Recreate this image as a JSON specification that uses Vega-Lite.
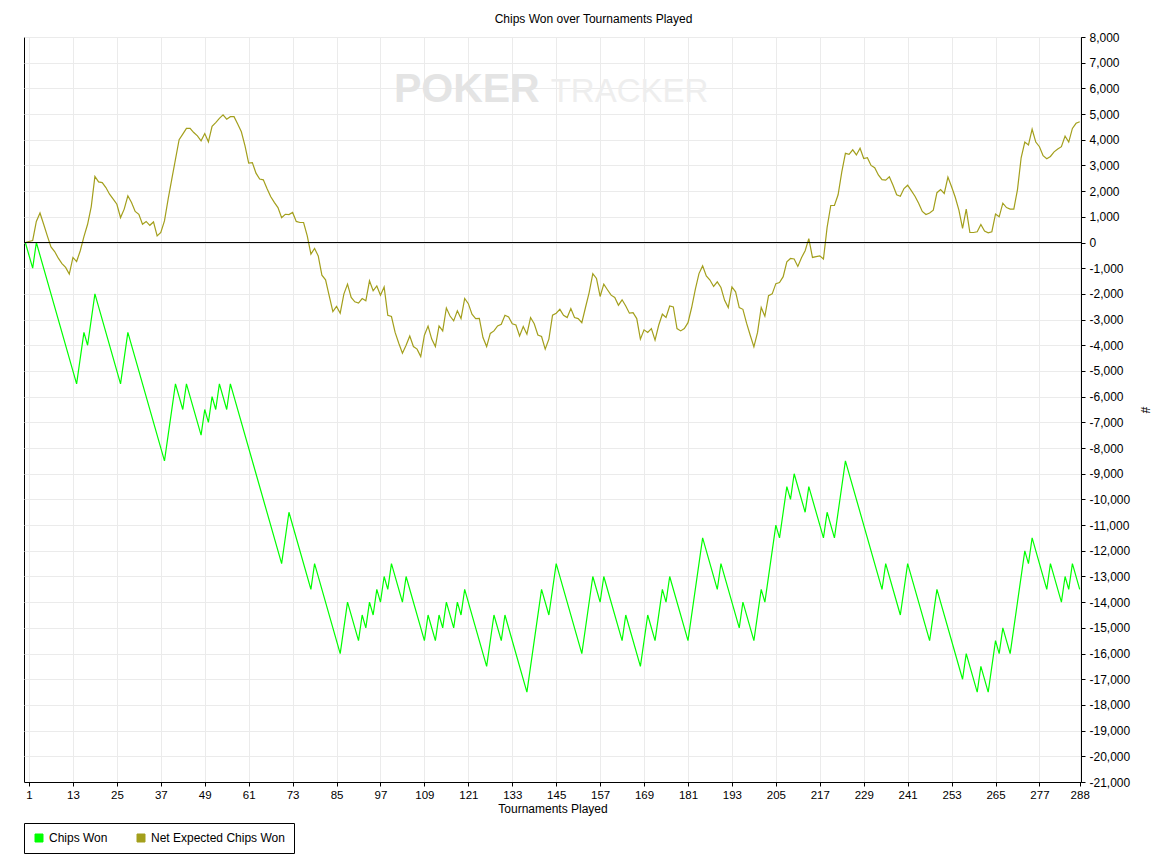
{
  "$schema": "https://vega.github.io/schema/vega-lite/v6.json",
  "width": 1057,
  "height": 745,
  "autosize": "none",
  "padding": {"left": 24, "top": 37, "right": 79, "bottom": 81},
  "background": "white",
  "title": {
    "text": "Chips Won over Tournaments Played",
    "fontSize": 12,
    "font": "Liberation Sans",
    "fontWeight": "normal",
    "color": "black",
    "anchor": "middle",
    "dx": 41,
    "offset": 5
  },
  "datasets": {
    "chips": [
      {"t":0,"v":0},{"t":2,"v":-1000},{"t":3,"v":0},{"t":14,"v":-5500},{"t":16,"v":-3500},{"t":17,"v":-4000},{"t":19,"v":-2000},{"t":26,"v":-5500},{"t":28,"v":-3500},{"t":38,"v":-8500},
      {"t":41,"v":-5500},{"t":43,"v":-6500},{"t":44,"v":-5500},{"t":48,"v":-7500},{"t":49,"v":-6500},{"t":50,"v":-7000},{"t":51,"v":-6000},{"t":52,"v":-6500},{"t":53,"v":-5500},{"t":55,"v":-6500},
      {"t":56,"v":-5500},{"t":70,"v":-12500},{"t":72,"v":-10500},{"t":78,"v":-13500},{"t":79,"v":-12500},{"t":86,"v":-16000},{"t":88,"v":-14000},{"t":91,"v":-15500},{"t":92,"v":-14500},{"t":93,"v":-15000},
      {"t":94,"v":-14000},{"t":95,"v":-14500},{"t":96,"v":-13500},{"t":97,"v":-14000},{"t":98,"v":-13000},{"t":99,"v":-13500},{"t":100,"v":-12500},{"t":103,"v":-14000},{"t":104,"v":-13000},{"t":109,"v":-15500},
      {"t":110,"v":-14500},{"t":112,"v":-15500},{"t":113,"v":-14500},{"t":114,"v":-15000},{"t":115,"v":-14000},{"t":117,"v":-15000},{"t":118,"v":-14000},{"t":119,"v":-14500},{"t":120,"v":-13500},{"t":126,"v":-16500},
      {"t":128,"v":-14500},{"t":130,"v":-15500},{"t":131,"v":-14500},{"t":137,"v":-17500},{"t":141,"v":-13500},{"t":143,"v":-14500},{"t":145,"v":-12500},{"t":152,"v":-16000},{"t":155,"v":-13000},{"t":157,"v":-14000},
      {"t":158,"v":-13000},{"t":163,"v":-15500},{"t":164,"v":-14500},{"t":168,"v":-16500},{"t":170,"v":-14500},{"t":172,"v":-15500},{"t":174,"v":-13500},{"t":175,"v":-14000},{"t":176,"v":-13000},{"t":181,"v":-15500},
      {"t":185,"v":-11500},{"t":189,"v":-13500},{"t":190,"v":-12500},{"t":195,"v":-15000},{"t":196,"v":-14000},{"t":199,"v":-15500},{"t":201,"v":-13500},{"t":202,"v":-14000},{"t":205,"v":-11000},{"t":206,"v":-11500},
      {"t":208,"v":-9500},{"t":209,"v":-10000},{"t":210,"v":-9000},{"t":213,"v":-10500},{"t":214,"v":-9500},{"t":218,"v":-11500},{"t":219,"v":-10500},{"t":221,"v":-11500},{"t":224,"v":-8500},{"t":234,"v":-13500},
      {"t":235,"v":-12500},{"t":239,"v":-14500},{"t":241,"v":-12500},{"t":247,"v":-15500},{"t":249,"v":-13500},{"t":256,"v":-17000},{"t":257,"v":-16000},{"t":260,"v":-17500},{"t":261,"v":-16500},{"t":263,"v":-17500},
      {"t":265,"v":-15500},{"t":266,"v":-16000},{"t":267,"v":-15000},{"t":269,"v":-16000},{"t":273,"v":-12000},{"t":274,"v":-12500},{"t":275,"v":-11500},{"t":279,"v":-13500},{"t":280,"v":-12500},{"t":283,"v":-14000},
      {"t":284,"v":-13000},{"t":285,"v":-13500},{"t":286,"v":-12500},{"t":288,"v":-13500}
    ],
    "net": [
      {"t":0,"v":0},{"t":1,"v":40},{"t":2,"v":80},{"t":3,"v":820},{"t":4,"v":1150},{"t":5,"v":710},{"t":6,"v":260},{"t":7,"v":-170},{"t":8,"v":-350},{"t":9,"v":-610},
      {"t":10,"v":-820},{"t":11,"v":-970},{"t":12,"v":-1230},{"t":13,"v":-580},{"t":14,"v":-740},{"t":15,"v":-320},{"t":16,"v":230},{"t":17,"v":710},{"t":18,"v":1400},{"t":19,"v":2570},
      {"t":20,"v":2360},{"t":21,"v":2330},{"t":22,"v":2140},{"t":23,"v":1880},{"t":24,"v":1690},{"t":25,"v":1490},{"t":26,"v":970},{"t":27,"v":1300},{"t":28,"v":1820},{"t":29,"v":1560},
      {"t":30,"v":1210},{"t":31,"v":1100},{"t":32,"v":710},{"t":33,"v":820},{"t":34,"v":670},{"t":35,"v":800},{"t":36,"v":260},{"t":37,"v":390},{"t":38,"v":840},{"t":39,"v":1690},
      {"t":40,"v":2470},{"t":41,"v":3240},{"t":42,"v":4000},{"t":43,"v":4220},{"t":44,"v":4440},{"t":45,"v":4440},{"t":46,"v":4280},{"t":47,"v":4150},{"t":48,"v":3960},{"t":49,"v":4240},
      {"t":50,"v":3920},{"t":51,"v":4520},{"t":52,"v":4670},{"t":53,"v":4830},{"t":54,"v":4970},{"t":55,"v":4800},{"t":56,"v":4900},{"t":57,"v":4900},{"t":58,"v":4610},{"t":59,"v":4310},
      {"t":60,"v":3760},{"t":61,"v":3090},{"t":62,"v":3110},{"t":63,"v":2700},{"t":64,"v":2470},{"t":65,"v":2440},{"t":66,"v":2100},{"t":67,"v":1790},{"t":68,"v":1560},{"t":69,"v":1360},
      {"t":70,"v":970},{"t":71,"v":1100},{"t":72,"v":1090},{"t":73,"v":1170},{"t":74,"v":820},{"t":75,"v":780},{"t":76,"v":780},{"t":77,"v":260},{"t":78,"v":-450},{"t":79,"v":-230},
      {"t":80,"v":-520},{"t":81,"v":-1270},{"t":82,"v":-1450},{"t":83,"v":-2080},{"t":84,"v":-2690},{"t":85,"v":-2490},{"t":86,"v":-2750},{"t":87,"v":-2010},{"t":88,"v":-1620},{"t":89,"v":-2140},
      {"t":90,"v":-2310},{"t":91,"v":-2360},{"t":92,"v":-2180},{"t":93,"v":-2270},{"t":94,"v":-1490},{"t":95,"v":-1880},{"t":96,"v":-1690},{"t":97,"v":-2050},{"t":98,"v":-1730},{"t":99,"v":-2830},
      {"t":100,"v":-2880},{"t":101,"v":-3500},{"t":102,"v":-3920},{"t":103,"v":-4310},{"t":104,"v":-4000},{"t":105,"v":-3640},{"t":106,"v":-4050},{"t":107,"v":-4150},{"t":108,"v":-4440},{"t":109,"v":-3610},
      {"t":110,"v":-3250},{"t":111,"v":-3760},{"t":112,"v":-4050},{"t":113,"v":-3250},{"t":114,"v":-3440},{"t":115,"v":-2550},{"t":116,"v":-2860},{"t":117,"v":-3050},{"t":118,"v":-2660},{"t":119,"v":-2960},
      {"t":120,"v":-2180},{"t":121,"v":-2380},{"t":122,"v":-2790},{"t":123,"v":-2960},{"t":124,"v":-2950},{"t":125,"v":-3700},{"t":126,"v":-4050},{"t":127,"v":-3540},{"t":128,"v":-3440},{"t":129,"v":-3250},
      {"t":130,"v":-3180},{"t":131,"v":-2830},{"t":132,"v":-2900},{"t":133,"v":-3160},{"t":134,"v":-3210},{"t":135,"v":-3640},{"t":136,"v":-3270},{"t":137,"v":-3570},{"t":138,"v":-2920},{"t":139,"v":-3160},
      {"t":140,"v":-3600},{"t":141,"v":-3660},{"t":142,"v":-4150},{"t":143,"v":-3760},{"t":144,"v":-2830},{"t":145,"v":-2750},{"t":146,"v":-2600},{"t":147,"v":-2830},{"t":148,"v":-2920},{"t":149,"v":-2570},
      {"t":150,"v":-2920},{"t":151,"v":-2960},{"t":152,"v":-3120},{"t":153,"v":-2530},{"t":154,"v":-1950},{"t":155,"v":-1210},{"t":156,"v":-1400},{"t":157,"v":-2100},{"t":158,"v":-1620},{"t":159,"v":-1840},
      {"t":160,"v":-2050},{"t":161,"v":-2140},{"t":162,"v":-2440},{"t":163,"v":-2230},{"t":164,"v":-2470},{"t":165,"v":-2750},{"t":166,"v":-2730},{"t":167,"v":-2960},{"t":168,"v":-3760},{"t":169,"v":-3400},
      {"t":170,"v":-3500},{"t":171,"v":-3350},{"t":172,"v":-3800},{"t":173,"v":-3220},{"t":174,"v":-2790},{"t":175,"v":-2920},{"t":176,"v":-2470},{"t":177,"v":-2510},{"t":178,"v":-3350},{"t":179,"v":-3440},
      {"t":180,"v":-3350},{"t":181,"v":-3120},{"t":182,"v":-2530},{"t":183,"v":-1820},{"t":184,"v":-1210},{"t":185,"v":-910},{"t":186,"v":-1300},{"t":187,"v":-1460},{"t":188,"v":-1710},{"t":189,"v":-1530},
      {"t":190,"v":-1750},{"t":191,"v":-2250},{"t":192,"v":-2530},{"t":193,"v":-1730},{"t":194,"v":-1920},{"t":195,"v":-2530},{"t":196,"v":-2600},{"t":197,"v":-3140},{"t":198,"v":-3610},{"t":199,"v":-4060},
      {"t":200,"v":-3500},{"t":201,"v":-2530},{"t":202,"v":-2870},{"t":203,"v":-2070},{"t":204,"v":-2000},{"t":205,"v":-1600},{"t":206,"v":-1560},{"t":207,"v":-1330},{"t":208,"v":-750},{"t":209,"v":-620},
      {"t":210,"v":-640},{"t":211,"v":-930},{"t":212,"v":-590},{"t":213,"v":-320},{"t":214,"v":150},{"t":215,"v":-580},{"t":216,"v":-550},{"t":217,"v":-520},{"t":218,"v":-640},{"t":219,"v":590},
      {"t":220,"v":1440},{"t":221,"v":1440},{"t":222,"v":1860},{"t":223,"v":2740},{"t":224,"v":3470},{"t":225,"v":3430},{"t":226,"v":3610},{"t":227,"v":3410},{"t":228,"v":3670},{"t":229,"v":3270},
      {"t":230,"v":3300},{"t":231,"v":3000},{"t":232,"v":2910},{"t":233,"v":2630},{"t":234,"v":2450},{"t":235,"v":2430},{"t":236,"v":2560},{"t":237,"v":2230},{"t":238,"v":1860},{"t":239,"v":1800},
      {"t":240,"v":2100},{"t":241,"v":2230},{"t":242,"v":2020},{"t":243,"v":1800},{"t":244,"v":1530},{"t":245,"v":1210},{"t":246,"v":1090},{"t":247,"v":1150},{"t":248,"v":1260},{"t":249,"v":1940},
      {"t":250,"v":2060},{"t":251,"v":1910},{"t":252,"v":2550},{"t":253,"v":2170},{"t":254,"v":1760},{"t":255,"v":1260},{"t":256,"v":550},{"t":257,"v":1300},{"t":258,"v":390},{"t":259,"v":390},
      {"t":260,"v":420},{"t":261,"v":700},{"t":262,"v":450},{"t":263,"v":380},{"t":264,"v":420},{"t":265,"v":1110},{"t":266,"v":1000},{"t":267,"v":1530},{"t":268,"v":1360},{"t":269,"v":1300},
      {"t":270,"v":1300},{"t":271,"v":2060},{"t":272,"v":3300},{"t":273,"v":3910},{"t":274,"v":3800},{"t":275,"v":4410},{"t":276,"v":3910},{"t":277,"v":3730},{"t":278,"v":3380},{"t":279,"v":3260},
      {"t":280,"v":3350},{"t":281,"v":3530},{"t":282,"v":3640},{"t":283,"v":3730},{"t":284,"v":4140},{"t":285,"v":3910},{"t":286,"v":4440},{"t":287,"v":4640},{"t":288,"v":4700}
    ]
  },
  "encoding": {
    "x": {
      "field": "t", "type": "quantitative", "title": "Tournaments Played",
      "scale": {"domain": [-0.37, 288.35], "nice": false, "zero": false},
      "axis": {"labelOverlap": false, "values": [1, 13, 25, 37, 49, 61, 73, 85, 97, 109, 121, 133, 145, 157, 169, 181, 193, 205, 217, 229, 241, 253, 265, 277, 288]}
    },
    "y": {
      "field": "v", "type": "quantitative", "title": "#",
      "scale": {"domain": [-21000, 8000], "nice": false, "zero": false},
      "axis": {
        "orient": "right", "format": ",d", "labelOverlap": false, "labelFlush": false, "labelBound": false,
        "values": [-21000, -20000, -19000, -18000, -17000, -16000, -15000, -14000, -13000, -12000, -11000, -10000, -9000, -8000, -7000, -6000, -5000, -4000, -3000, -2000, -1000, 0, 1000, 2000, 3000, 4000, 5000, 6000, 7000, 8000]
      }
    }
  },
  "layer": [
    {
      "data": {"name": "chips"},
      "mark": {"type": "line", "strokeWidth": 1.2},
      "encoding": {
        "color": {
          "datum": "Chips Won",
          "legend": {
            "encode": {"symbols": {"update": {"fill": {"scale": "color", "field": "value"}, "fillOpacity": {"value": 1}, "stroke": {"value": "black"}, "strokeWidth": {"value": 1}, "opacity": {"value": 1}}}}
          }
        }
      }
    },
    {
      "data": {"name": "net"},
      "mark": {"type": "line", "strokeWidth": 1.2},
      "encoding": {"color": {"datum": "Net Expected Chips Won"}}
    },
    {
      "data": {"values": [{"t": -0.37, "v": 0}, {"t": 288.35, "v": 0}]},
      "mark": {"type": "line", "color": "black", "strokeWidth": 1},
      "encoding": {}
    },
    {
      "data": {"values": [{"label": "POKER", "t": 140.5, "v": 5460}]},
      "mark": {"type": "text", "align": "right", "baseline": "alphabetic", "font": "Liberation Sans", "fontWeight": "bold", "fontSize": 41, "color": "#e4e4e4"},
      "encoding": {"text": {"field": "label"}}
    },
    {
      "data": {"values": [{"label": "TRACKER", "t": 143.5, "v": 5460}]},
      "mark": {"type": "text", "align": "left", "baseline": "alphabetic", "font": "Liberation Sans", "fontWeight": "normal", "fontSize": 33, "color": "#eeeeee"},
      "encoding": {"text": {"field": "label"}}
    }
  ],
  "config": {
    "locale": {"number": {"decimal": ".", "thousands": ",", "grouping": [3], "currency": ["$", ""], "minus": "-"}},
    "view": {"stroke": "black", "strokeWidth": 1},
    "font": "Liberation Sans",
    "axis": {
      "gridColor": "#ebebeb",
      "gridWidth": 1,
      "domainColor": "black",
      "tickColor": "black",
      "tickSize": 4,
      "labelColor": "black",
      "labelFont": "Liberation Sans",
      "labelFontSize": 12,
      "labelOverlap": false,
      "titleFont": "Liberation Sans",
      "titleFontSize": 12,
      "titleFontWeight": "normal",
      "titleColor": "black"
    },
    "axisX": {
      "labelPadding": 3,
      "titlePadding": 3,
      "labelFontSize": 11.5
    },
    "axisY": {
      "labelPadding": 4,
      "titlePadding": 8,
      "titleAngle": 90
    },
    "legend": {
      "orient": "none",
      "legendX": 0,
      "legendY": 786,
      "direction": "horizontal",
      "title": null,
      "symbolType": "square",
      "symbolSize": 64,
      "symbolStrokeWidth": 1,
      "symbolStrokeColor": "black",
      "strokeColor": "black",
      "padding": 9,
      "columnPadding": 27,
      "labelFont": "Liberation Sans",
      "labelFontSize": 12,
      "labelColor": "black"
    },
    "range": {"category": ["#00ff00", "#a39f1c"]}
  }
}
